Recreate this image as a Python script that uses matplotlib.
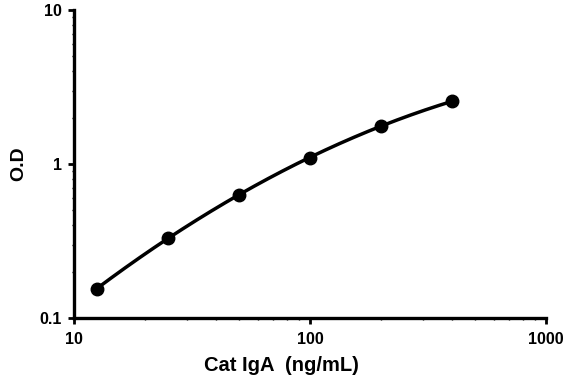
import numpy as np
import matplotlib
matplotlib.use("Agg")
import matplotlib.pyplot as plt
from matplotlib.ticker import FixedLocator, FixedFormatter, LogLocator, NullFormatter

# Standardkurve: Konzentration (ng/mL) gegen O.D
conc = [12.5, 25, 50, 100, 200, 400]
od = [0.155, 0.33, 0.63, 1.10, 1.77, 2.55]

x_ticks = [10, 100, 1000]
x_labels = ["10", "100", "1000"]
y_ticks = [0.1, 1, 10]
y_labels = ["0.1", "1", "10"]

plt.rcParams["font.family"] = ["Liberation Sans", "DejaVu Sans"]
plt.rcParams["font.weight"] = "bold"

fig = plt.figure(figsize=(5.8, 3.79), dpi=100)
ax = fig.add_axes([0.1276, 0.161, 0.8138, 0.8126])

# Glatte Kurve: quadratischer Fit in log-log
lx, ly = np.log10(conc), np.log10(od)
coef = np.polyfit(lx, ly, 2)
xs = np.linspace(lx[0], lx[-1], 200)
ax.plot(10 ** xs, 10 ** np.polyval(coef, xs), color="black", lw=2.5, zorder=2)
ax.plot(conc, od, "o", color="black", ms=9, zorder=3)

ax.set_xscale("log")
ax.set_yscale("log")
ax.set_xlim(10, 1000)
ax.set_ylim(0.1, 10)

ax.xaxis.set_major_locator(FixedLocator(x_ticks))
ax.xaxis.set_major_formatter(FixedFormatter(x_labels))
ax.yaxis.set_major_locator(FixedLocator(y_ticks))
ax.yaxis.set_major_formatter(FixedFormatter(y_labels))
ax.xaxis.set_minor_locator(LogLocator(base=10, subs=np.arange(2, 10)))
ax.yaxis.set_minor_locator(LogLocator(base=10, subs=np.arange(2, 10)))
ax.xaxis.set_minor_formatter(NullFormatter())
ax.yaxis.set_minor_formatter(NullFormatter())

for s in ("top", "right"):
    ax.spines[s].set_visible(False)
for s in ("left", "bottom"):
    ax.spines[s].set_linewidth(2.4)

ax.tick_params(which="major", length=4, width=2, labelsize=11.5)
ax.tick_params(axis="x", which="major", pad=6)
ax.tick_params(axis="y", which="major", pad=5)
ax.tick_params(which="minor", length=1.5, width=1)

ax.set_xlabel("Cat IgA  (ng/mL)", fontsize=14.5, fontweight="bold")
ax.set_ylabel("O.D", fontsize=14, fontweight="bold")
ax.xaxis.set_label_coords(0.44, -0.125)
ax.yaxis.set_label_coords(-0.10, 0.5)

fig.savefig("out.png", dpi=100)
